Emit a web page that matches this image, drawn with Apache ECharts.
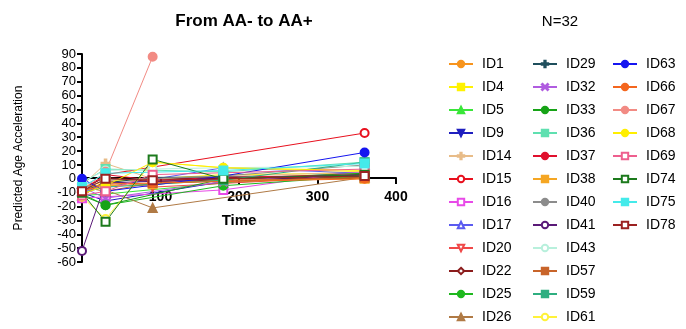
<!DOCTYPE html>
<html>
<head>
<meta charset="utf-8">
<script src="https://cdn.jsdelivr.net/npm/echarts@6/dist/echarts.min.js"></script>
<style>
html, body { margin: 0; padding: 0; background: #fff; }
#main { width: 686px; height: 329px; }
</style>
</head>
<body>
<div id="main"></div>
<script>
// sampling days
var times = [0, 30, 90, 180, 360];

// predicted age acceleration per subject (null = not measured)
var ID1  = [-8, -3, -4, 0, 2];
var ID4  = [-6, -2, null, 3, 4];
var ID5  = [-12, -11, null, -3, 3];
var ID9  = [-10, -16, null, -2, 3];
var ID14 = [-5, 11, 0, null, 5];
var ID15 = [-10, 3, null, null, 33];
var ID16 = [-14, -13, null, -8, 6];
var ID17 = [-9, -6, null, 8, 4];
var ID20 = [-13, -1, -6, null, 2];
var ID22 = [-7, 1, -2, null, 1];
var ID25 = [-11, -19, null, -5, 2];
var ID26 = [-4, -8, -21, null, 1];
var ID29 = [-9, -3, 1, null, 2];
var ID32 = [-6, -14, null, -2, 5];
var ID33 = [-12, -19, null, 0, 4];
var ID36 = [-3, 7, null, 5, 12];
var ID37 = [-8, 3, -1, 1, 3];
var ID38 = [-5, -5, -4, -1, 0];
var ID40 = [-7, -1, null, 2, 10];
var ID41 = [-52, -3, null, 0, 3];
var ID43 = [-2, 6, 7, 8, 9];
var ID57 = [-6, -9, -3, null, 1];
var ID59 = [-10, -6, null, -1, 12];
var ID61 = [-13, -29, 12, 8, 5];
var ID63 = [0, -9, null, 2, 19];
var ID66 = [-9, -4, -3, null, 0];
var ID67 = [-8, 5, 88, null, null];
var ID68 = [-11, -5, 12, 8, 6];
var ID69 = [-12, -9, 3, null, 7];
var ID74 = [-10, -31, 14, 0, 3];
var ID75 = [-6, 4, null, 6, 11];
var ID78 = [-9, 0, -1, null, 2];

var col1 = ['ID1', 'ID4', 'ID5', 'ID9', 'ID14', 'ID15', 'ID16', 'ID17', 'ID20', 'ID22', 'ID25', 'ID26'];
var col2 = ['ID29', 'ID32', 'ID33', 'ID36', 'ID37', 'ID38', 'ID40', 'ID41', 'ID43', 'ID57', 'ID59', 'ID61'];
var col3 = ['ID63', 'ID66', 'ID67', 'ID68', 'ID69', 'ID74', 'ID75', 'ID78'];

var values = {
  ID1: ID1, ID4: ID4, ID5: ID5, ID9: ID9, ID14: ID14, ID15: ID15, ID16: ID16, ID17: ID17,
  ID20: ID20, ID22: ID22, ID25: ID25, ID26: ID26, ID29: ID29, ID32: ID32, ID33: ID33, ID36: ID36,
  ID37: ID37, ID38: ID38, ID40: ID40, ID41: ID41, ID43: ID43, ID57: ID57, ID59: ID59, ID61: ID61,
  ID63: ID63, ID66: ID66, ID67: ID67, ID68: ID68, ID69: ID69, ID74: ID74, ID75: ID75, ID78: ID78
};

var plus = 'path://M4,0H6V4H10V6H6V10H4V6H0V4H4Z';
var cross = 'path://M1,0L5,4L9,0L10,1L6,5L10,9L9,10L5,6L1,10L0,9L4,5L0,1Z';
var bar = 'path://M4,0H6V10H4Z';

// colour, symbol, rotate
var looks = {
  ID1:  ['#F7941D', 'circle'],
  ID4:  ['#FFF200', 'rect'],
  ID5:  ['#39E639', 'triangle'],
  ID9:  ['#1F1FBF', 'triangle', 180],
  ID14: ['#E8BC88', plus],
  ID15: ['#E8101E', 'emptyCircle'],
  ID16: ['#E84AE8', 'emptyRect'],
  ID17: ['#5B5BF0', 'emptyTriangle'],
  ID20: ['#F04848', 'emptyTriangle', 180],
  ID22: ['#8B1C1C', 'emptyDiamond'],
  ID25: ['#1FB81F', 'circle'],
  ID26: ['#B07A45', 'triangle'],
  ID29: ['#1F4E5C', plus],
  ID32: ['#B05CE0', cross],
  ID33: ['#17A317', 'circle'],
  ID36: ['#5FE0B0', 'rect'],
  ID37: ['#E0102D', 'circle'],
  ID38: ['#F5A623', 'rect'],
  ID40: ['#8C8C8C', 'circle'],
  ID41: ['#5A1A78', 'emptyCircle'],
  ID43: ['#B8F0DC', 'emptyCircle'],
  ID57: ['#C8642A', bar],
  ID59: ['#2EAE80', bar],
  ID61: ['#FFF23A', 'emptyCircle'],
  ID63: ['#1515F0', 'circle'],
  ID66: ['#F4661E', 'circle'],
  ID67: ['#F28B84', 'circle'],
  ID68: ['#FFEF00', 'circle'],
  ID69: ['#EE5F8E', 'emptyRect'],
  ID74: ['#1C7A1C', 'emptyRect'],
  ID75: ['#44EAEA', 'rect'],
  ID78: ['#9B2121', 'emptyRect']
};

var names = col1.concat(col2).concat(col3);
var series = names.map(function (n) {
  var lk = looks[n];
  return {
    name: n,
    type: 'line',
    data: times.map(function (t, i) { return values[n][i] == null ? null : [t, values[n][i]]; }).filter(function (d) { return d; }),
    symbol: lk[1],
    symbolRotate: lk[2] || 0,
    symbolSize: 8,
    color: lk[0],
    lineStyle: { width: 1, color: lk[0] },
    itemStyle: { color: lk[0], borderColor: lk[0], borderWidth: 2 },
    emphasis: { disabled: true },
    animation: false,
    z: 3
  };
});

function legend(data, left) {
  return {
    data: data,
    orient: 'vertical',
    left: left,
    top: 52,
    height: 277,
    itemWidth: 24,
    itemHeight: 8,
    itemGap: 9,
    textStyle: { fontSize: 14, color: '#000', fontFamily: 'Liberation Sans, Arial', padding: [0, 0, 0, 4] },
    selectedMode: false
  };
}

var myChart = echarts.init(document.getElementById('main'));
myChart.setOption({
  backgroundColor: '#fff',
  animation: false,
  title: [
    { text: 'From AA- to AA+', left: 239, top: 8, textAlign: 'center',
      textStyle: { fontSize: 17, fontWeight: 'bold', color: '#000', fontFamily: 'Liberation Sans, Arial' } },
    { text: 'N=32', left: 555, top: 9, textAlign: 'center',
      textStyle: { fontSize: 15, fontWeight: 'normal', color: '#000', fontFamily: 'Liberation Sans, Arial' } }
  ],
  legend: [legend(col1, 443), legend(col2, 527), legend(col3, 607)],
  grid: { left: 82, top: 54, width: 314, height: 208 },
  xAxis: {
    type: 'value',
    min: 0, max: 400, interval: 100,
    position: 'bottom',
    offset: -84,
    name: 'Time',
    nameLocation: 'middle',
    nameGap: 35,
    nameTextStyle: { fontSize: 15, fontWeight: 'bold', color: '#000', fontFamily: 'Liberation Sans, Arial' },
    axisLine: { onZero: false, lineStyle: { color: '#000', width: 2 } },
    axisTick: { length: 6, lineStyle: { color: '#000', width: 2 } },
    axisLabel: { fontSize: 14, fontWeight: 'bold', color: '#000', margin: 12, showMinLabel: false, fontFamily: 'Liberation Sans, Arial' },
    splitLine: { show: false }
  },
  yAxis: {
    type: 'value',
    min: -60, max: 90, interval: 10,
    name: 'Predicted Age Acceleration',
    nameLocation: 'middle',
    nameGap: 57,
    nameTextStyle: { fontSize: 12, color: '#000', fontFamily: 'Liberation Sans, Arial' },
    axisLine: { show: true, onZero: false, lineStyle: { color: '#000', width: 2 } },
    axisTick: { show: true, length: 5, lineStyle: { color: '#000', width: 2 } },
    axisLabel: { fontSize: 13, color: '#000', margin: 6, fontFamily: 'Liberation Sans, Arial' },
    splitLine: { show: false }
  },
  series: series
});
</script>
</body>
</html>
